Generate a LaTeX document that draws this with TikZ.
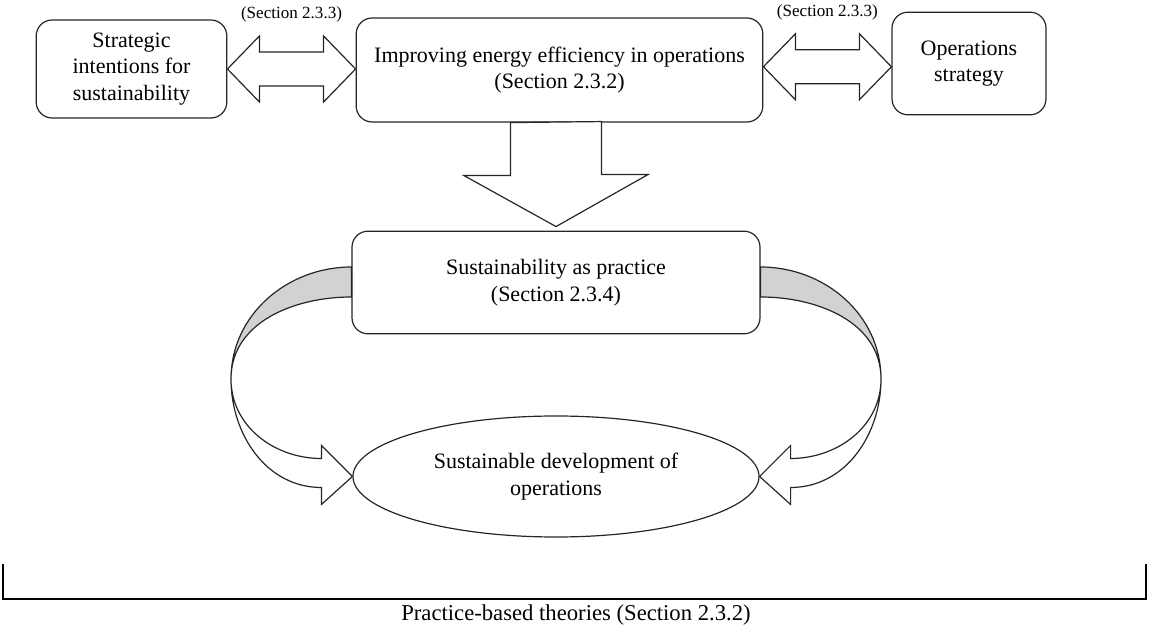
\documentclass[tikz,border=0pt]{standalone}
\usepackage{fontspec}
\setmainfont{Liberation Serif}
\usetikzlibrary{positioning, calc, shapes.geometric}

\begin{document}
\begin{tikzpicture}[
    x=0.75pt, y=-0.75pt,
    every node/.style={font=\fontsize{16.5}{20}\selectfont},
    ink/.style={draw=black!85, line width=0.9pt},
    box/.style={ink, rectangle, rounded corners=12pt, align=center, inner sep=2pt},
    oval/.style={ink, ellipse, align=center, inner sep=0pt},
    hollow/.style={ink, fill=white, line join=miter},
    band/.style={ink, fill=gray!35},
    seclabel/.style={font=\fontsize{12.8}{15}\selectfont},
    bracket/.style={draw=black, line width=2pt},
]
    \useasboundingbox (0,0) rectangle (1149,630);

    % --- boxes ---
    \node[box, minimum width=143pt, minimum height=73.5pt] (strat) at (131.5,69) {Strategic\\intentions for\\sustainability};
    \node[box, minimum width=305pt, minimum height=78pt] (energy) at (559.5,70) {Improving energy efficiency in operations\\(Section 2.3.2)};
    \node[box, minimum width=115.5pt, minimum height=77pt] (opstrat) at (969,63.5) {Operations\\strategy};
    \node[box, minimum width=306pt, minimum height=77pt] (practice) at (556,282.5) {Sustainability as practice\\(Section 2.3.4)};
    \node[oval, minimum width=304.5pt, minimum height=90.75pt] (develop) at (556,476.5) {Sustainable development of\\operations};

    % --- double arrows ---
    \coordinate (m1) at ($(strat.east)!.5!(energy.west |- strat.east)$);
    \draw[hollow] (strat.east) -- ++(32,-33) -- ++(0,16) -- ($(energy.west |- strat.east)+(-32,-17)$) -- ++(0,-16)
        -- (energy.west |- strat.east) -- ++(-32,33) -- ++(0,-16) -- ($(strat.east)+(32,17)$) -- ++(0,16) -- cycle;
    \node[seclabel] (sec1) at ($(m1)+(0,-55)$) {(Section 2.3.3)};

    \coordinate (m2) at ($(energy.east)!.5!(opstrat.west)$);
    \draw[hollow] (energy.east |- m2) -- ++(32,-33) -- ++(0,16) -- ($(opstrat.west |- m2)+(-32,-17)$) -- ++(0,-16)
        -- (opstrat.west |- m2) -- ++(-32,33) -- ++(0,-16) -- ($(energy.east |- m2)+(32,17)$) -- ++(0,16) -- cycle;
    \node[seclabel] (sec2) at ($(m2)+(0,-54)$) {(Section 2.3.3)};

    % --- down arrow ---
    \draw[hollow] ($(practice.north |- energy.south)+(-45.5,0)$) -- ++(0,53) -- ++(-46.5,0) -- ($(practice.north)+(0,-4)$)
        -- ++(92,-52) -- ++(-46.5,0) -- ++(0,-53) -- cycle;

    % --- curved arrows ---
    \coordinate (lo) at ($(practice.west)+(0,-15.5)$);
    \coordinate (li) at ($(practice.west)+(0,14.5)$);
    \coordinate (lbend) at (231,379);
    \coordinate (lheadin) at ($(develop.west)+(-31,-18)$);
    \coordinate (lheadout) at ($(develop.west)+(-31,11)$);
    \draw[hollow] (lbend) to[out=-90,in=180] (lheadout) -- ++(0,17) -- (develop.west) -- ($(develop.west)+(-31,-31)$)
        -- (lheadin) to[out=180,in=-90] (lbend) -- cycle;
    \draw[band] (lo) to[out=180,in=90] (lbend) to[out=90,in=180] (li) -- cycle;

    \coordinate (ro) at ($(practice.east)+(0,-15.5)$);
    \coordinate (ri) at ($(practice.east)+(0,14.5)$);
    \coordinate (rbend) at (881,379);
    \coordinate (rheadin) at ($(develop.east)+(31,-18)$);
    \coordinate (rheadout) at ($(develop.east)+(31,11)$);
    \draw[hollow] (rbend) to[out=-90,in=0] (rheadout) -- ++(0,17) -- (develop.east) -- ($(develop.east)+(31,-31)$)
        -- (rheadin) to[out=0,in=-90] (rbend) -- cycle;
    \draw[band] (ro) to[out=0,in=90] (rbend) to[out=90,in=0] (ri) -- cycle;

    % --- bracket ---
    \coordinate (brl) at (3,564);
    \coordinate (brr) at (1146,564);
    \draw[bracket] (brl) -- (brl |- 0,599) -- (brr |- 0,599) -- (brr);
    \node[font=\fontsize{17}{20}\selectfont] (theory) at (576,615) {Practice-based theories (Section 2.3.2)};

\end{tikzpicture}
\end{document}
